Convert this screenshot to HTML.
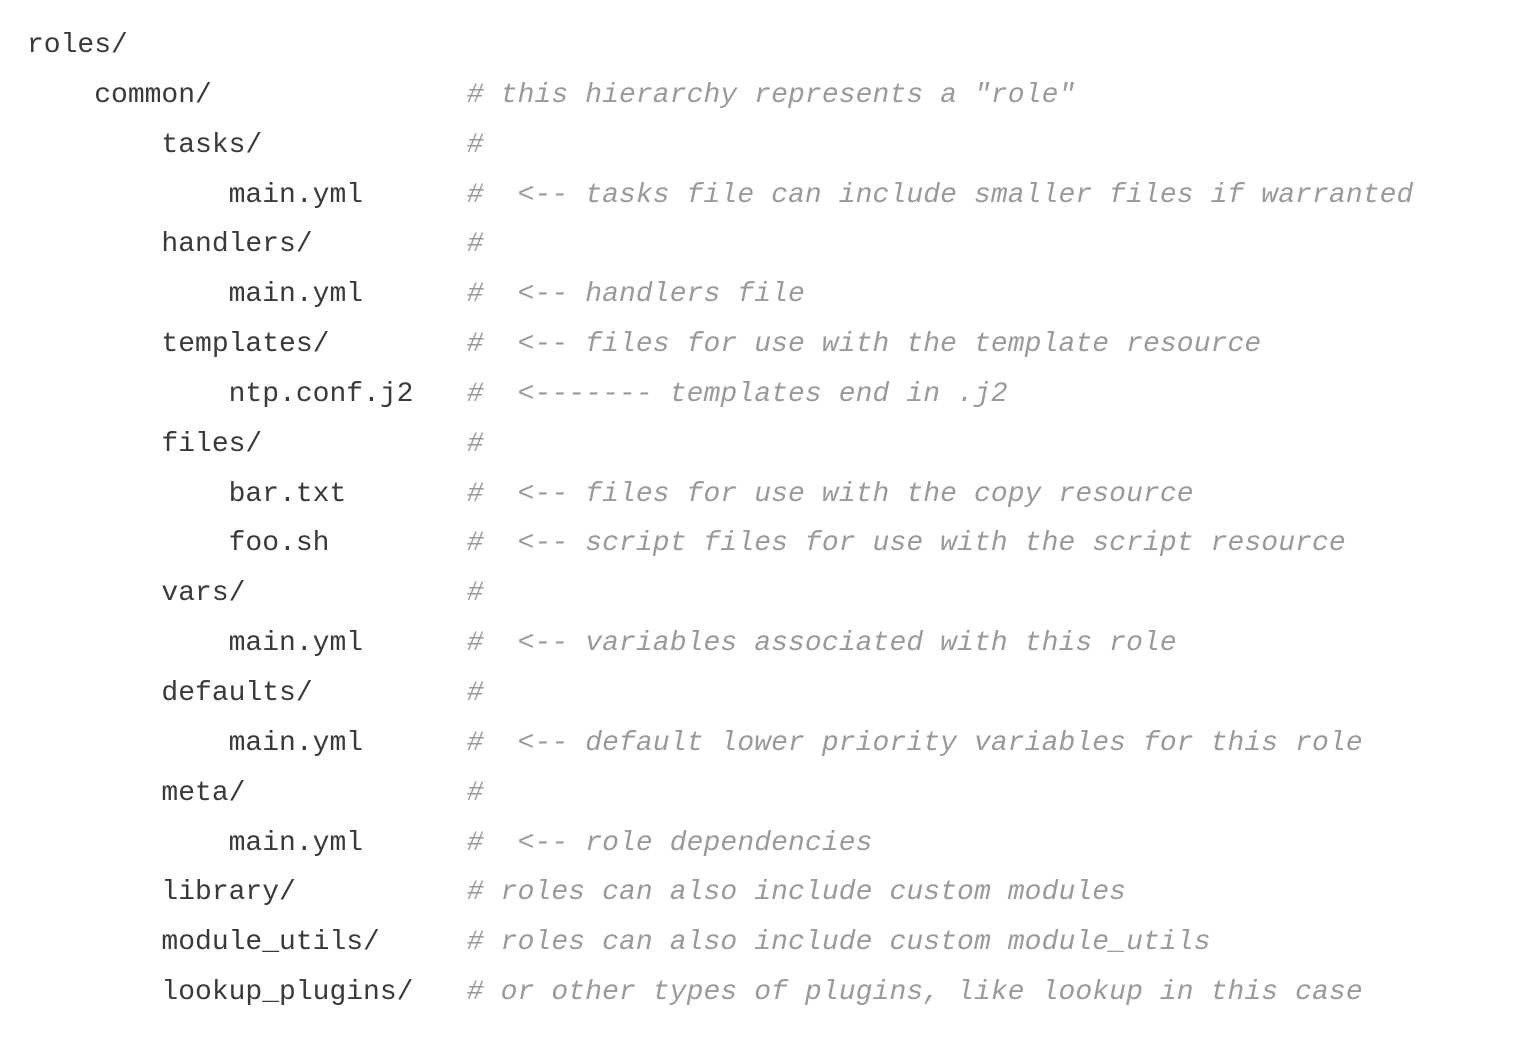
<!DOCTYPE html>
<html><head><meta charset="utf-8"><style>
html,body{margin:0;padding:0;background:#fff;width:1540px;height:1056px;overflow:hidden}
pre{position:absolute;left:27px;top:21px;margin:0;font-family:"Liberation Mono",monospace;font-size:28px;line-height:49.85px;color:#3a3a3a}
.c{color:#9a9a9a;font-style:italic;position:relative;left:3px;letter-spacing:0.1px}
</style></head><body>
<pre>roles/
    common/               <span class="c"># this hierarchy represents a "role"</span>
        tasks/            <span class="c">#</span>
            main.yml      <span class="c">#  &lt;-- tasks file can include smaller files if warranted</span>
        handlers/         <span class="c">#</span>
            main.yml      <span class="c">#  &lt;-- handlers file</span>
        templates/        <span class="c">#  &lt;-- files for use with the template resource</span>
            ntp.conf.j2   <span class="c">#  &lt;------- templates end in .j2</span>
        files/            <span class="c">#</span>
            bar.txt       <span class="c">#  &lt;-- files for use with the copy resource</span>
            foo.sh        <span class="c">#  &lt;-- script files for use with the script resource</span>
        vars/             <span class="c">#</span>
            main.yml      <span class="c">#  &lt;-- variables associated with this role</span>
        defaults/         <span class="c">#</span>
            main.yml      <span class="c">#  &lt;-- default lower priority variables for this role</span>
        meta/             <span class="c">#</span>
            main.yml      <span class="c">#  &lt;-- role dependencies</span>
        library/          <span class="c"># roles can also include custom modules</span>
        module_utils/     <span class="c"># roles can also include custom module_utils</span>
        lookup_plugins/   <span class="c"># or other types of plugins, like lookup in this case</span></pre>
</body></html>
